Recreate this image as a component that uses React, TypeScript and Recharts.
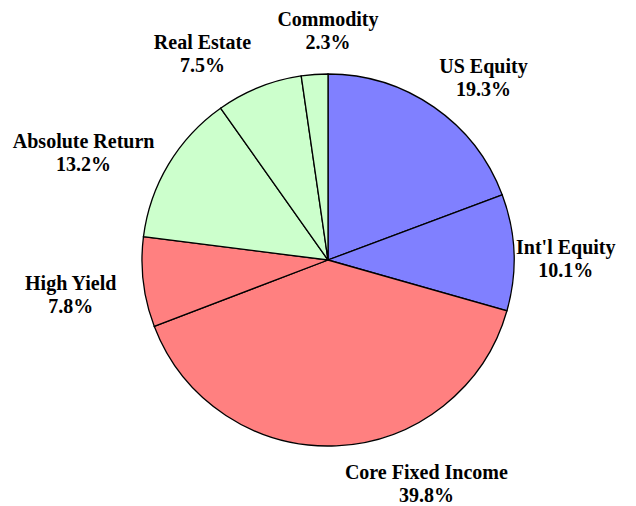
import { PieChart, Pie, Cell } from "recharts";

const categories = ["US Equity", "Int'l Equity", "Core Fixed Income", "High Yield", "Absolute Return", "Real Estate", "Commodity"];
const weights = [19.3, 10.1, 39.8, 7.8, 13.2, 7.5, 2.3];
const groups = ["equity", "equity", "fixed", "fixed", "alt", "alt", "alt"];

const groupColor: Record<string, string> = {
  equity: "#8080FF",
  fixed: "#FF8080",
  alt: "#CCFFCC",
};

// Excel-style hand placed labels: small tweaks on top of the radial position
const labelNudge: Record<string, [number, number]> = {
  "US Equity": [21, 11],
  "Int'l Equity": [2, 8],
  "Core Fixed Income": [88, -13],
  "High Yield": [-23, 6],
  "Absolute Return": [-42, 13],
  "Real Estate": [-38, 12],
  "Commodity": [17, 5],
};

const data = categories.map((name, i) => ({ name, value: weights[i], group: groups[i] }));

const RAD = Math.PI / 180;

function renderLabel(props: any) {
  const { cx, cy, midAngle, outerRadius, name, value } = props;
  const r = outerRadius + 50;
  const [dx, dy] = labelNudge[name] ?? [0, 0];
  const x = cx + r * Math.cos(-midAngle * RAD) + dx;
  const y = cy + r * Math.sin(-midAngle * RAD) + dy;
  return (
    <text
      x={x}
      y={y}
      textAnchor="middle"
      fontFamily="'Liberation Serif', 'Times New Roman', serif"
      fontWeight="bold"
      fontSize={20}
      fill="#000"
    >
      <tspan x={x} dy={-4}>{name}</tspan>
      <tspan x={x} dy={23}>{value.toFixed(1)}%</tspan>
    </text>
  );
}

export default function App() {
  return (
    <div style={{ position: "absolute", left: 0, top: 0, width: 636, height: 506, background: "#fff" }}>
      <PieChart width={636} height={506} margin={{ top: 0, right: 0, bottom: 0, left: 0 }}>
        <Pie
          data={data}
          dataKey="value"
          nameKey="name"
          cx={328}
          cy={260}
          outerRadius={186}
          startAngle={90}
          endAngle={-270}
          stroke="#000"
          strokeWidth={1.3}
          label={renderLabel}
          labelLine={false}
          isAnimationActive={false}
        >
          {data.map((d) => (
            <Cell key={d.name} fill={groupColor[d.group]} />
          ))}
        </Pie>
      </PieChart>
    </div>
  );
}
